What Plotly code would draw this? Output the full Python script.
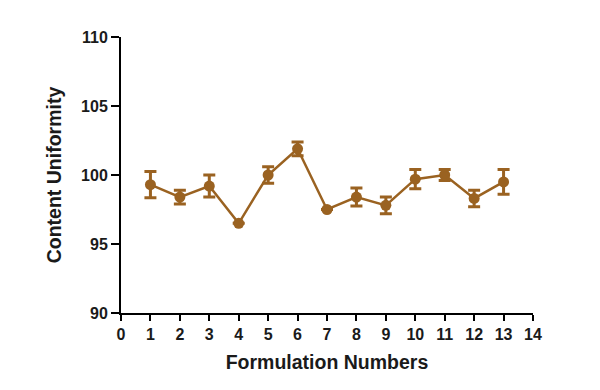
import plotly.graph_objects as go

formulations = list(range(1, 14))
content = [99.3, 98.4, 99.2, 96.5, 100.0, 101.9, 97.5, 98.4, 97.8, 99.7, 100.0, 98.3, 99.5]
errors = [0.95, 0.5, 0.8, 0.0, 0.6, 0.5, 0.0, 0.65, 0.6, 0.7, 0.4, 0.6, 0.9]
x_ticks = list(range(0, 15))
y_ticks = [90, 95, 100, 105, 110]

color = "#9a6221"
fam = "Liberation Sans, Arial"

fig = go.Figure()
fig.add_trace(go.Scatter(
    x=formulations, y=content, mode="lines+markers",
    line=dict(color=color, width=2.5),
    marker=dict(color=color, size=11),
    error_y=dict(type="data", array=errors, visible=True, color=color, thickness=3, width=6),
    showlegend=False,
))

tick_font = dict(family=fam, size=16, color="#1a1a1a", weight="bold")
title_font = dict(family=fam, size=19.5, color="#1a1a1a", weight="bold")
fig.update_layout(
    width=600, height=390,
    margin=dict(l=113, r=75, t=29, b=85),
    plot_bgcolor="white", paper_bgcolor="white",
    xaxis=dict(
        range=[0, 14], tickvals=x_ticks, ticktext=[str(v) for v in x_ticks],
        showline=True, linecolor="black", linewidth=2, ticks="outside",
        tickcolor="black", tickwidth=2, ticklen=6, showgrid=False, zeroline=False,
        tickfont=tick_font,
        title=dict(text="Formulation Numbers", font=title_font, standoff=13),
    ),
    yaxis=dict(
        range=[90, 110], tickvals=y_ticks, ticktext=[str(v) for v in y_ticks],
        showline=True, linecolor="black", linewidth=2, ticks="outside",
        tickcolor="black", tickwidth=2, ticklen=8, showgrid=False, zeroline=False,
        tickfont=tick_font,
        title=dict(text="Content Uniformity", font=title_font, standoff=14),
    ),
)
fig.write_html("out.html")
